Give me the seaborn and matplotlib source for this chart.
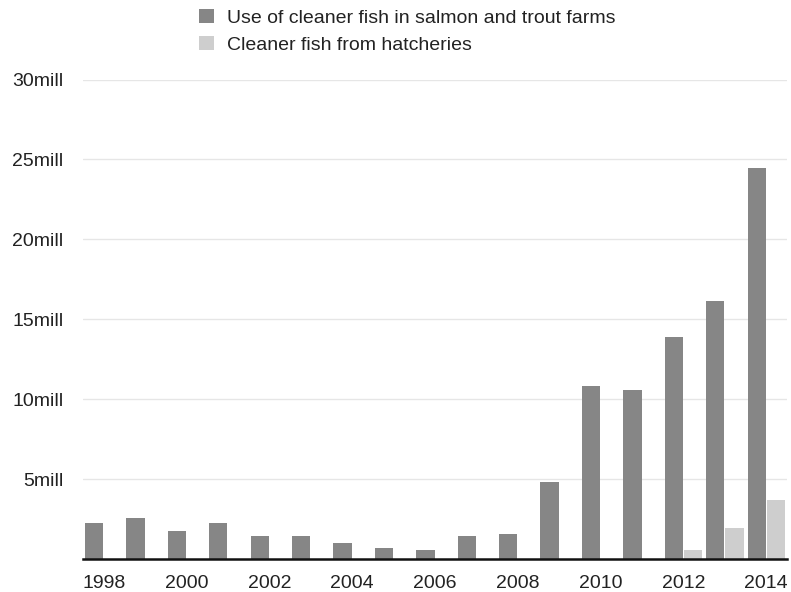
import matplotlib
matplotlib.use("Agg")
import matplotlib.pyplot as plt
import seaborn as sns
import pandas as pd
import numpy as np

years = [str(y) for y in range(1998, 2015)]
farm_use = [2.25, 2.56, 1.79, 2.25, 1.48, 1.48, 1.0, 0.71, 0.6, 1.48, 1.58, 4.81, 10.85, 10.56, 13.9, 16.14, 24.46]
hatchery = [0, 0, 0, 0, 0, 0, 0, 0, 0, 0, 0, 0, 0, 0, 0.6, 1.98, 3.73]
series_names = ["Use of cleaner fish in salmon and trout farms", "Cleaner fish from hatcheries"]
y_ticks = [5, 10, 15, 20, 25, 30]
y_tick_labels = ["5mill", "10mill", "15mill", "20mill", "25mill", "30mill"]

df = pd.DataFrame({
    "year": years * 2,
    "value": farm_use + hatchery,
    "series": [series_names[0]] * len(years) + [series_names[1]] * len(years),
})

sns.set_theme(style="white")
plt.rcParams["font.family"] = ["Liberation Sans", "DejaVu Sans"]
plt.rcParams["text.color"] = "#222222"

fig = plt.figure(figsize=(7.91, 5.92), dpi=100)
ax = fig.add_axes([83 / 791, 1 - 559.3 / 592, (787 - 83) / 791, (559.3 - 79.5) / 592])

sns.barplot(data=df, x="year", y="value", hue="series", hue_order=series_names,
            palette=["#868686", "#cecece"], width=0.93, gap=0.05, ax=ax,
            edgecolor="none", linewidth=0, saturation=1)

ax.set_ylim(0, 30)
ax.set_xlim(-0.5, len(years) - 0.5)
ax.set_yticks(y_ticks)
ax.set_yticklabels(y_tick_labels)
ax.set_xticks(range(len(years)))
ax.set_xticklabels([y if i % 2 == 0 else "" for i, y in enumerate(years)])
ax.yaxis.grid(True, color="#e6e6e6", linewidth=1)
ax.set_axisbelow(True)
for s in ["top", "right", "left"]:
    ax.spines[s].set_visible(False)
ax.spines["bottom"].set_color("#111111")
ax.spines["bottom"].set_linewidth(1.8)
ax.tick_params(axis="both", length=0, labelsize=14, colors="#222222")
ax.tick_params(axis="y", pad=14)
ax.tick_params(axis="x", pad=11)
ax.set_xlabel("")
ax.set_ylabel("")

handles, labels = ax.get_legend_handles_labels()
ax.get_legend().remove()
fig.legend(handles, labels, loc="upper left", bbox_to_anchor=(199 / 791, 1 - 9 / 592),
           bbox_transform=fig.transFigure, frameon=False, fontsize=14,
           handlelength=0.75, handleheight=0.75, handletextpad=0.7, labelspacing=0.45,
           borderpad=0, borderaxespad=0)

fig.savefig("out.png", dpi=100)
